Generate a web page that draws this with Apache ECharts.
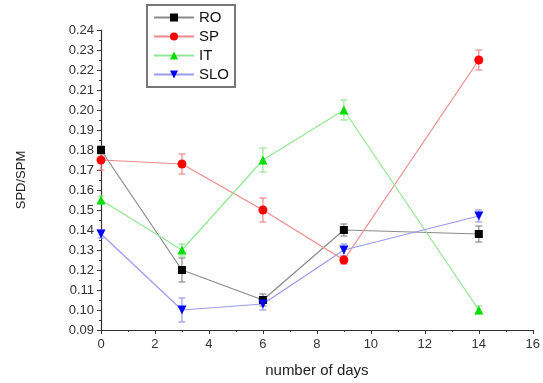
<!DOCTYPE html>
<html><head><meta charset="utf-8">
<script src="https://cdn.jsdelivr.net/npm/echarts@6/dist/echarts.min.js"></script>
<style>html,body{margin:0;padding:0;background:#fff}#c{width:543px;height:383px}</style>
</head><body><div id="c"></div>
<script>
const days = [0, 3, 6, 9, 14];
const seriesNames = ['RO', 'SP', 'IT', 'SLO'];
const RO  = [0.180, 0.120, 0.105, 0.140, 0.138];
const SP  = [0.175, 0.173, 0.150, 0.125, 0.225];
const IT  = [0.155, 0.130, 0.175, 0.200, 0.100];
const SLO = [0.138, 0.100, 0.103, 0.130, 0.147];
const RO_err  = [0.002, 0.006, 0.003, 0.003, 0.004];
const SP_err  = [0.005, 0.005, 0.006, 0.002, 0.005];
const IT_err  = [0.002, 0.003, 0.006, 0.005, 0.002];
const SLO_err = [0.002, 0.006, 0.003, 0.003, 0.003];

const values = [RO, SP, IT, SLO];
const errs = [RO_err, SP_err, IT_err, SLO_err];
const markerColors = ['#000000', '#ff0000', '#00dd00', '#0000ff'];
const lineColors = ['#8a8a8a', '#f08a8a', '#90e890', '#9a9af0'];
const symbols = ['rect', 'circle', 'triangle', 'triangle'];
const rotations = [0, 0, 0, 180];
const sizes = [8, 9, 9, 9];

const font = 'Arial, "Liberation Sans", sans-serif';
const series = [];
seriesNames.forEach((name, i) => {
  series.push({
    name, type: 'line',
    data: days.map((d, k) => [d, values[i][k]]),
    symbol: symbols[i], symbolRotate: rotations[i], symbolSize: sizes[i],
    lineStyle: { color: lineColors[i], width: 1.2 },
    itemStyle: { color: markerColors[i] },
    z: 3, clip: false
  });
  series.push({
    type: 'custom', name: name + '_err',
    data: days.map((d, k) => [d, values[i][k] - errs[i][k], values[i][k] + errs[i][k]]),
    renderItem: (params, api) => {
      const lo = api.coord([api.value(0), api.value(1)]);
      const hi = api.coord([api.value(0), api.value(2)]);
      const w = 3.5;
      const st = { stroke: lineColors[i], lineWidth: 1.2 };
      return { type: 'group', children: [
        { type: 'line', shape: { x1: lo[0], y1: lo[1], x2: hi[0], y2: hi[1] }, style: st },
        { type: 'line', shape: { x1: lo[0]-w, y1: lo[1], x2: lo[0]+w, y2: lo[1] }, style: st },
        { type: 'line', shape: { x1: hi[0]-w, y1: hi[1], x2: hi[0]+w, y2: hi[1] }, style: st }
      ]};
    },
    z: 2, silent: true
  });
});

const chart = echarts.init(document.getElementById('c'), null, { renderer: 'canvas' });
chart.setOption({
  animation: false,
  backgroundColor: '#fff',
  grid: { left: 101, right: 6, top: 30, bottom: 53 },
  legend: {
    data: seriesNames, orient: 'vertical', left: 147, top: 5,
    borderColor: '#777', borderWidth: 2, padding: [5, 6, 5, 6],
    itemGap: 4, itemWidth: 40, itemHeight: 10,
    textStyle: { fontFamily: font, fontSize: 15, color: '#111' }
  },
  xAxis: {
    type: 'value', min: 0, max: 16, interval: 2,
    name: 'number of days', nameLocation: 'middle', nameGap: 33,
    nameTextStyle: { fontFamily: font, fontSize: 15, color: '#222' },
    axisLine: { lineStyle: { color: '#333', width: 1.2 } },
    axisTick: { length: 4, lineStyle: { color: '#333' } },
    minorTick: { show: true, splitNumber: 2, length: 2, lineStyle: { color: '#333' } },
    axisLabel: { fontFamily: font, fontSize: 13, color: '#333', margin: 8 },
    splitLine: { show: false }
  },
  yAxis: {
    type: 'value', min: 0.09, max: 0.24, interval: 0.01,
    name: 'SPD/SPM', nameLocation: 'middle', nameGap: 73, nameRotate: 90,
    nameTextStyle: { fontFamily: font, fontSize: 13, color: '#222' },
    axisLine: { show: true, lineStyle: { color: '#333', width: 1.2 } },
    axisTick: { show: true, length: 4, lineStyle: { color: '#333' } },
    minorTick: { show: true, splitNumber: 2, length: 2, lineStyle: { color: '#333' } },
    axisLabel: { fontFamily: font, fontSize: 13, color: '#333', margin: 7,
      formatter: v => v.toFixed(2) },
    splitLine: { show: false }
  },
  series
});
</script></body></html>
